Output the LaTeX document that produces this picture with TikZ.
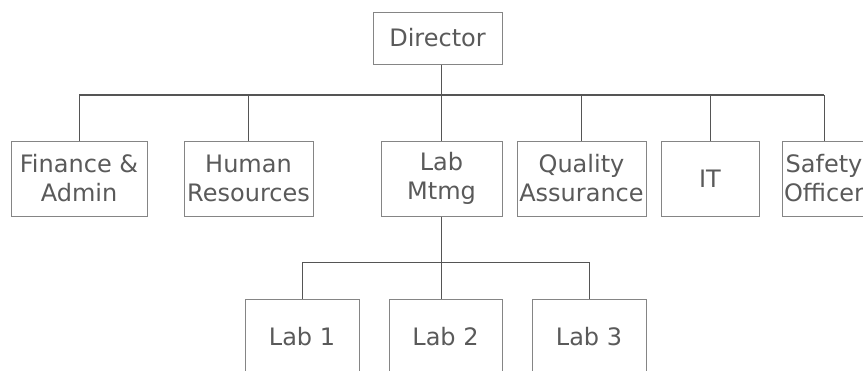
\documentclass[tikz,border=0pt]{standalone}
\usepackage{fontspec}
\setmainfont{DejaVu Sans}
\usepackage{tikz}
\usetikzlibrary{positioning,calc}
\definecolor{txtgray}{HTML}{5A5A5A}
\definecolor{boxgray}{HTML}{858585}
\definecolor{linegray}{HTML}{555555}

\begin{document}
\begin{tikzpicture}[
  x=1pt, y=-1pt,
  unit/.style={draw=boxgray,line width=1pt,fill=white,text=txtgray,
    align=center,inner sep=0pt,minimum height=75pt,
    font=\fontsize{24}{29}\selectfont},
  conn/.style={draw=linegray,line width=1pt},
  bus/.style={draw=linegray,line width=2pt}
]
\useasboundingbox (0,0) rectangle (863,370);
\clip (0,0) rectangle (863,370);

% ===================== TOP: director =====================
\node[unit,minimum width=129pt,minimum height=52pt] (dir) at (437.5,38) {Director};

% ===================== MIDDLE: departments =====================
\node[unit,minimum width=136pt] (fin)    at (79,178.5)    {Finance \&\\Admin};
\node[unit,minimum width=129pt] (hr)     at (248.5,178.5) {Human\\Resources};
\node[unit,minimum width=121pt] (mtmg)   at (441.5,178.5) {Lab\\Mtmg};
\node[unit,minimum width=129pt] (qa)     at (581.5,178.5) {Quality\\Assurance};
\node[unit,minimum width=98pt]  (it)     at (710,178.5)   {IT};
\node[unit,minimum width=84pt]  (safety) at (824,178.5)   {Safety\\Officer};

% bus under director
\coordinate (busL) at (fin.north |- 0,95);
\coordinate (busR) at (safety.north |- 0,95);
\draw[bus] (busL) -- (busR);
\draw[conn] (dir.south -| mtmg.north) -- (mtmg.north);
\foreach \d in {fin,hr,qa,it,safety}
  \draw[conn] (\d.north |- busL) -- (\d.north);

% ===================== BOTTOM: labs =====================
\node[unit,minimum width=114pt] (lab1) at (302,336.5)   {Lab 1};
\node[unit,minimum width=113pt] (lab2) at (445.5,336.5) {Lab 2};
\node[unit,minimum width=114pt] (lab3) at (589,336.5)   {Lab 3};

\coordinate (subL) at (lab1.north |- 0,262);
\draw[conn] (subL) -- (lab3.north |- subL);
\draw[conn] (mtmg.south) -- (mtmg.south |- lab2.north);
\draw[conn] (subL) -- (lab1.north);
\draw[conn] (lab3.north |- subL) -- (lab3.north);

\end{tikzpicture}
\end{document}
